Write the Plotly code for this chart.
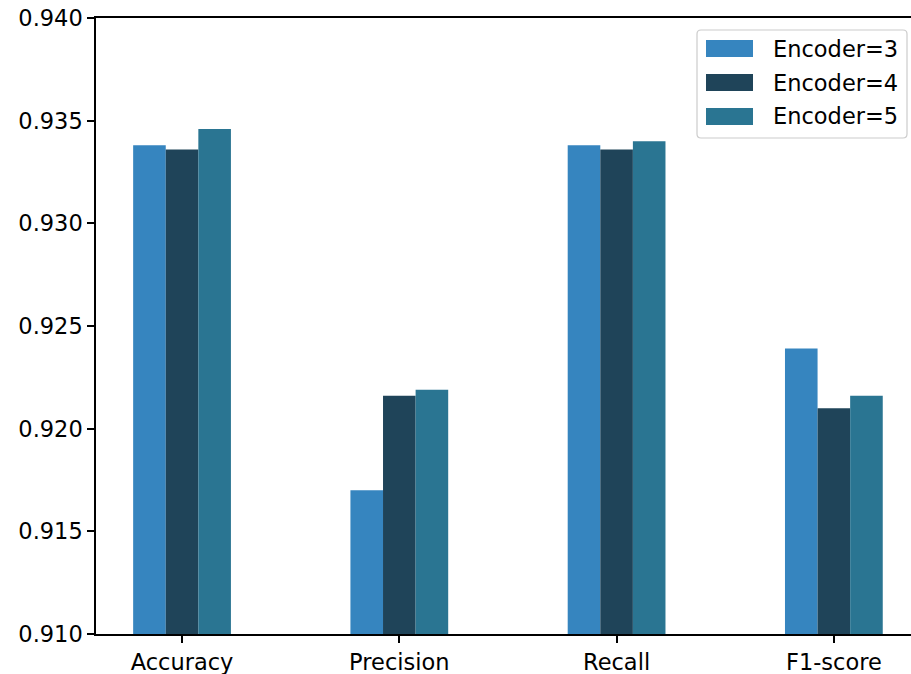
import plotly.graph_objects as go

# Metric names and scores for each encoder depth
metrics = ["Accuracy", "Precision", "Recall", "F1-score"]
encoder_names = ["Encoder=3", "Encoder=4", "Encoder=5"]
enc3 = [0.9338, 0.9170, 0.9338, 0.9239]
enc4 = [0.9336, 0.9216, 0.9336, 0.9210]
enc5 = [0.9346, 0.9219, 0.9340, 0.9216]
y_ticks = [0.910, 0.915, 0.920, 0.925, 0.930, 0.935, 0.940]

series = [enc3, enc4, enc5]
colors = ["#3685bf", "#1f4459", "#2a7592"]
bar_w = 0.15

W, H = 911, 674
ML, MR, MT, MB = 96, 0, 18, 40
PW, PH = W - ML - MR, H - MT - MB


def px(x):
    return (x - ML) / PW


def py(y):
    return (H - MB - y) / PH


fig = go.Figure()
for k, (name, vals, col) in enumerate(zip(encoder_names, series, colors)):
    xs = [i + (k - 1) * bar_w for i in range(len(metrics))]
    fig.add_trace(go.Bar(
        x=xs, y=vals, name=name, width=bar_w,
        marker=dict(color=col, line=dict(width=0)),
        showlegend=False,
    ))

FS = 22.5
font = dict(family="DejaVu Sans", size=FS, color="black")

# Legend box (rounded frame) with wide colour patches
shapes = []
x0, x1, y0, y1, r = 697, 907, 30, 138, 4
frame = (f"M {px(x0 + r)},{py(y0)} L {px(x1 - r)},{py(y0)} "
         f"Q {px(x1)},{py(y0)} {px(x1)},{py(y0 + r)} "
         f"L {px(x1)},{py(y1 - r)} Q {px(x1)},{py(y1)} {px(x1 - r)},{py(y1)} "
         f"L {px(x0 + r)},{py(y1)} Q {px(x0)},{py(y1)} {px(x0)},{py(y1 - r)} "
         f"L {px(x0)},{py(y0 + r)} Q {px(x0)},{py(y0)} {px(x0 + r)},{py(y0)} Z")
shapes.append(dict(type="path", path=frame, xref="paper", yref="paper",
                   fillcolor="rgba(255,255,255,0.8)",
                   line=dict(color="#cccccc", width=1.2), layer="above"))
annotations = []
for k, (name, col) in enumerate(zip(encoder_names, colors)):
    cy = 48.5 + k * 34
    shapes.append(dict(type="rect", xref="paper", yref="paper",
                       x0=px(706), x1=px(753), y0=py(cy + 8.5), y1=py(cy - 8.5),
                       fillcolor=col, line=dict(width=0), layer="above"))
    annotations.append(dict(text=name, xref="paper", yref="paper",
                            x=px(771), y=py(cy), xanchor="left", yanchor="middle",
                            showarrow=False, font=font))

fig.update_layout(
    width=W, height=H,
    margin=dict(l=ML, r=MR, t=MT, b=MB),
    plot_bgcolor="white", paper_bgcolor="white",
    font=font,
    barmode="overlay",
    showlegend=False,
    shapes=shapes,
    annotations=annotations,
    xaxis=dict(
        range=[-0.396, 3.355],
        tickmode="array", tickvals=list(range(len(metrics))), ticktext=metrics,
        showline=True, linecolor="black", linewidth=1.5, mirror=True,
        ticks="outside", ticklen=7, tickwidth=1.5, tickcolor="black",
        showgrid=False, zeroline=False, tickfont=font,
    ),
    yaxis=dict(
        range=[0.910, 0.940],
        tickmode="array", tickvals=y_ticks,
        ticktext=[f"{v:.3f}" for v in y_ticks],
        showline=True, linecolor="black", linewidth=1.5, mirror=False,
        ticks="outside", ticklen=7, tickwidth=1.5, tickcolor="black",
        showgrid=False, zeroline=False, tickfont=font,
    ),
)

fig.write_html("out.html")
